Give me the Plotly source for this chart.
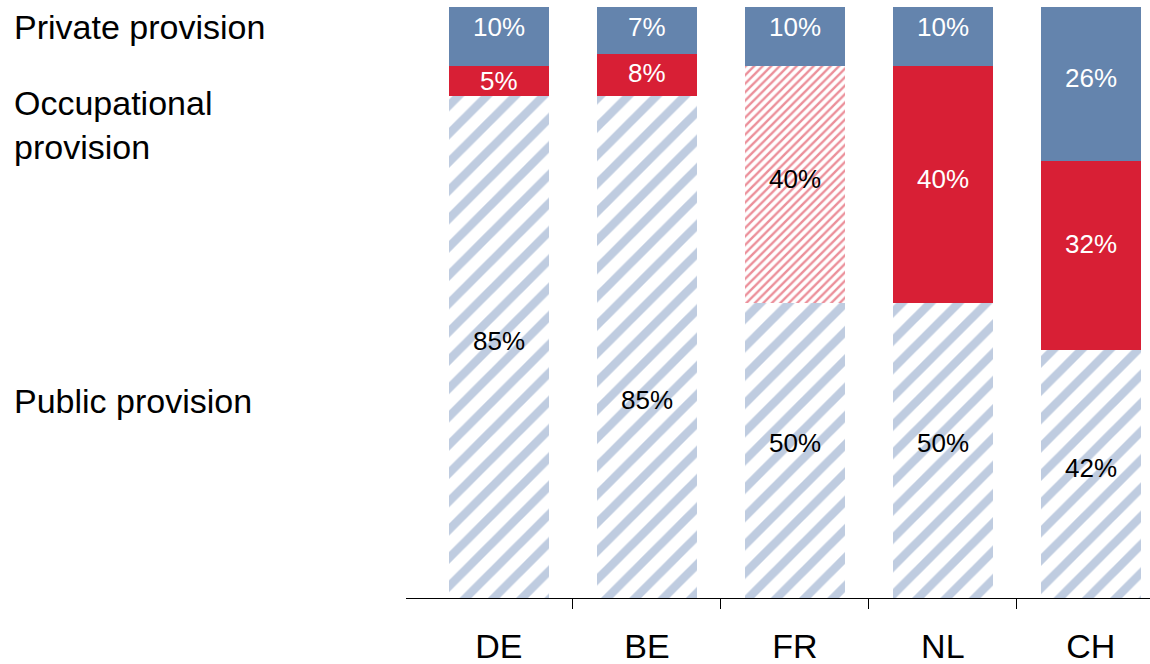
import plotly.graph_objects as go

countries = ["DE", "BE", "FR", "NL", "CH"]
# segment heights as drawn (share, %)
public = [85, 85, 50, 50, 42]
occupational = [5, 7, 40, 40, 32]
private = [10, 8, 10, 10, 26]
# labels as printed on the chart
public_labels = ["85%", "85%", "50%", "50%", "42%"]
occupational_labels = ["5%", "8%", "40%", "40%", "32%"]
private_labels = ["10%", "7%", "10%", "10%", "26%"]

# vertical nudges (px, upward) for the value labels, per segment
public_shift = [6, -53, 7, 7, 6]
occupational_shift = [0, 2, 5, 5, 11]
private_shift = [10, 4, 10, 10, 6]

BLUE = "#6484ad"
RED = "#d81f35"
STRIPE = "#8099c1"
FONT = "Liberation Sans, Arial, sans-serif"

x = list(range(len(countries)))
fig = go.Figure()

fig.add_trace(go.Bar(
    x=x, y=public,
    marker=dict(color="white", line=dict(width=0),
                pattern=dict(shape="/", fgcolor=STRIPE, bgcolor="white", size=20, solidity=0.42)),
    hoverinfo="skip"))

occ_shape = ["", "", "/", "", ""]
occ_text_color = ["white", "white", "black", "white", "white"]
fig.add_trace(go.Bar(
    x=x, y=occupational,
    marker=dict(color=RED, line=dict(width=0),
                pattern=dict(shape=occ_shape, fgcolor=RED, bgcolor="white", size=6, solidity=0.4)),
    hoverinfo="skip"))

fig.add_trace(go.Bar(
    x=x, y=private,
    marker=dict(color=BLUE, line=dict(width=0)),
    hoverinfo="skip"))

# value labels
for i in x:
    segs = [(public[i], public_labels[i], public_shift[i], "black"),
            (occupational[i], occupational_labels[i], occupational_shift[i], occ_text_color[i]),
            (private[i], private_labels[i], private_shift[i], "white")]
    base = 0
    for val, lab, sh, col in segs:
        fig.add_annotation(x=i, y=base + val / 2, xref="x", yref="y", text=lab,
                           showarrow=False, yanchor="middle", xanchor="center", yshift=sh,
                           font=dict(size=26, family=FONT, color=col))
        base += val

# invisible trace on secondary axis for boundary ticks
fig.add_trace(go.Scatter(x=[0.5], y=[0], xaxis="x2", mode="markers",
                         marker=dict(opacity=0), hoverinfo="skip", showlegend=False))

xr = [-0.628, 4.4]
fig.update_layout(
    barmode="stack", bargap=0.324, showlegend=False,
    width=1150, height=664, margin=dict(l=406, r=0, t=7, b=66, autoexpand=False),
    paper_bgcolor="white", plot_bgcolor="white",
    font=dict(family=FONT, color="black"),
    xaxis=dict(range=xr, tickvals=x, ticktext=countries, ticks="", showgrid=False,
               zeroline=False, showline=True, linecolor="black", linewidth=1, automargin=False,
               tickfont=dict(size=34, family=FONT, color="black"), ticklabelstandoff=18),
    xaxis2=dict(range=xr, overlaying="x", side="bottom", tickvals=[0.5, 1.5, 2.5, 3.5],
                ticks="outside", ticklen=10, tickcolor="black", tickwidth=1, automargin=False,
                showticklabels=False, showgrid=False, zeroline=False, showline=False),
    yaxis=dict(range=[0, 100], visible=False, showgrid=False, zeroline=False, automargin=False),
)

labels = [("Private provision", 96.6), ("Occupational<br>provision", 80.0), ("Public provision", 33.4)]
for txt, yv in labels:
    fig.add_annotation(text=txt, xref="paper", yref="y", x=-394/744, y=yv,
                       xanchor="left", yanchor="middle", align="left", showarrow=False,
                       font=dict(size=34, family=FONT, color="black"))

fig.write_html("out.html")
